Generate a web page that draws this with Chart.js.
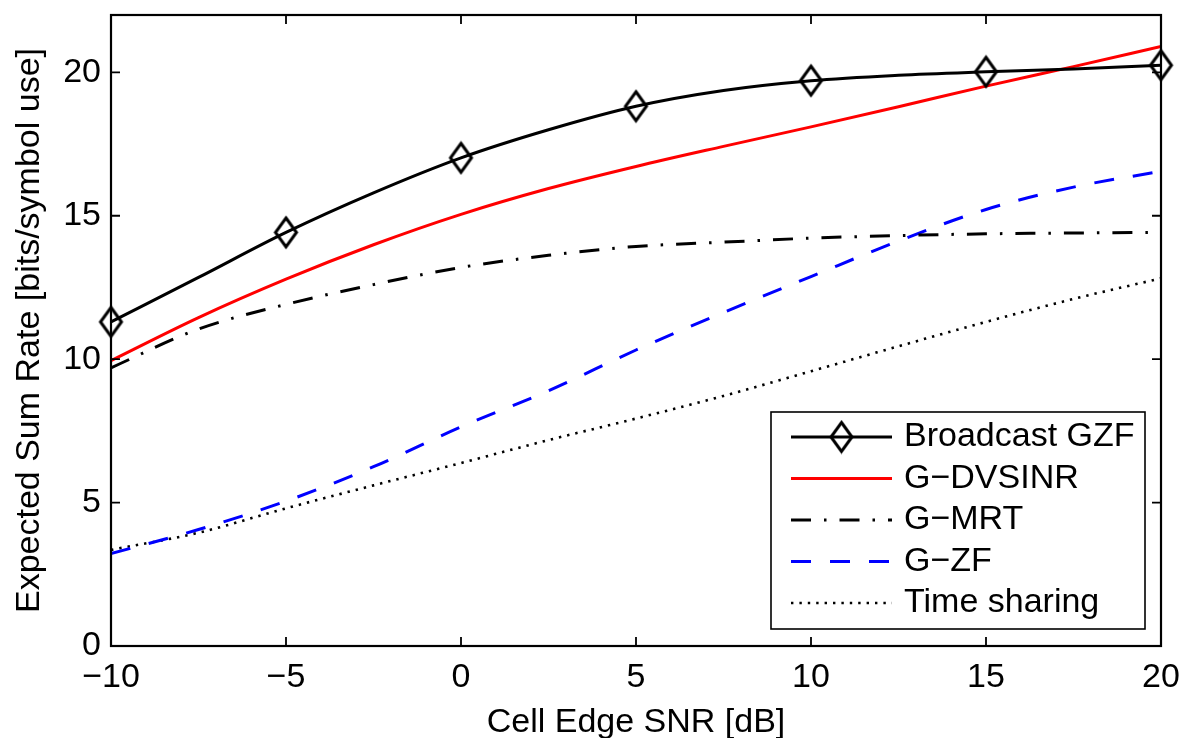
<!DOCTYPE html>
<html><head><meta charset="utf-8">
<script src="https://cdn.jsdelivr.net/npm/chart.js@4.4.1/dist/chart.umd.min.js"></script>
<style>html,body{margin:0;padding:0;background:#fff;}canvas{display:block;}</style>
</head><body>
<canvas id="c" width="1187" height="738"></canvas>
<script>
// ---- data ----
const snrDb        = [-10, -7.5, -5, -2.5, 0, 2.5, 5, 7.5, 10, 12.5, 15, 17.5, 20];
const broadcastGzf = [11.3, 12.85, 14.42, 15.8, 17.02, 18.0, 18.82, 19.37, 19.71, 19.9, 20.02, 20.12, 20.25];
const gDvsinr      = [9.95, 11.45, 12.79, 13.99, 15.05, 15.95, 16.72, 17.42, 18.1, 18.8, 19.52, 20.2, 20.9];
const gMrt         = [9.7, 11.05, 11.91, 12.6, 13.2, 13.62, 13.93, 14.08, 14.22, 14.31, 14.37, 14.4, 14.42];
const gZf          = [3.22, 4.06, 5.05, 6.25, 7.64, 8.9, 10.32, 11.63, 12.88, 14.12, 15.22, 16.0, 16.55];
const timeSharing  = [3.35, 3.95, 4.8, 5.6, 6.38, 7.18, 7.93, 8.72, 9.58, 10.45, 11.3, 12.1, 12.82];
const seriesLabels = ['Broadcast GZF', 'G\u2212DVSINR', 'G\u2212MRT', 'G\u2212ZF', 'Time sharing'];
const markerEvery  = 5;
const xTickValues  = [-10, -5, 0, 5, 10, 15, 20];
const xTickLabels  = ['\u221210', '\u22125', '0', '5', '10', '15', '20'];
const yTickValues  = [0, 5, 10, 15, 20];
const yTickLabels  = ['0', '5', '10', '15', '20'];
const xTitle = 'Cell Edge SNR [dB]';
const yTitle = 'Expected Sum Rate [bits/symbol use]';

const FONT = "'Liberation Sans', Arial, Helvetica, sans-serif";

// diamond marker image (taller than wide, unfilled)
function makeDiamond() {
  const w = 21, h = 29, lw = 3;
  const cv = document.createElement('canvas');
  cv.width = w + 6; cv.height = h + 6;
  const c = cv.getContext('2d');
  const cx = cv.width / 2, cy = cv.height / 2;
  c.strokeStyle = '#000'; c.lineWidth = lw; c.lineJoin = 'miter';
  c.beginPath();
  c.moveTo(cx, cy - h / 2); c.lineTo(cx + w / 2, cy); c.lineTo(cx, cy + h / 2); c.lineTo(cx - w / 2, cy); c.closePath();
  c.stroke();
  return cv;
}
const diamond = makeDiamond();

const toPts = arr => snrDb.map((x, i) => ({x: x, y: arr[i]}));

const datasets = [
  {label: seriesLabels[0], data: toPts(broadcastGzf), borderColor: '#000', borderWidth: 3,
   pointStyle: diamond, pointRadius: c => (c.raw && c.raw.x % markerEvery === 0) ? 12 : 0, clip: false, _marker: true},
  {label: seriesLabels[1], data: toPts(gDvsinr), borderColor: '#ff0000', borderWidth: 3, pointRadius: 0},
  {label: seriesLabels[2], data: toPts(gMrt), borderColor: '#000', borderWidth: 3, borderDash: [20, 13, 2.5, 13], pointRadius: 0},
  {label: seriesLabels[3], data: toPts(gZf), borderColor: '#0000ff', borderWidth: 3, borderDash: [20, 19], pointRadius: 0},
  {label: seriesLabels[4], data: toPts(timeSharing), borderColor: '#000', borderWidth: 2.6, borderDash: [2.4, 6], pointRadius: 0}
].map(d => Object.assign({fill: false, cubicInterpolationMode: 'monotone', backgroundColor: 'transparent'}, d));

const frameTicks = {
  id: 'frameTicks',
  afterDatasetsDraw(chart) {
    const {ctx, chartArea: a, scales: {x, y}} = chart;
    ctx.save();
    ctx.strokeStyle = '#000';
    ctx.lineWidth = 1.8;
    const L = 9;
    ctx.beginPath();
    xTickValues.forEach(v => {
      const px = x.getPixelForValue(v);
      ctx.moveTo(px, a.bottom); ctx.lineTo(px, a.bottom - L);
      ctx.moveTo(px, a.top); ctx.lineTo(px, a.top + L);
    });
    yTickValues.forEach(v => {
      const py = y.getPixelForValue(v);
      ctx.moveTo(a.left, py); ctx.lineTo(a.left + L, py);
      ctx.moveTo(a.right, py); ctx.lineTo(a.right - L, py);
    });
    ctx.stroke();
    ctx.lineWidth = 2.2;
    ctx.strokeRect(a.left, a.top, a.right - a.left, a.bottom - a.top);
    ctx.restore();
  }
};

const boxLegend = {
  id: 'boxLegend',
  afterDraw(chart) {
    const {ctx, chartArea: a} = chart;
    const right = a.right - 16, bottom = a.bottom - 17;
    const left = right - 374, top = bottom - 217;
    ctx.save();
    ctx.fillStyle = '#fff';
    ctx.fillRect(left, top, right - left, bottom - top);
    ctx.strokeStyle = '#000'; ctx.lineWidth = 1.6;
    ctx.strokeRect(left, top, right - left, bottom - top);
    const x0 = left + 20, x1 = left + 121, tx = left + 133;
    const rowY0 = top + 25, rowStep = 41.5;
    chart.data.datasets.forEach((d, i) => {
      const yy = rowY0 + i * rowStep;
      ctx.save();
      ctx.strokeStyle = d.borderColor; ctx.lineWidth = d.borderWidth;
      ctx.setLineDash(d.borderDash || []);
      ctx.beginPath(); ctx.moveTo(x0, yy); ctx.lineTo(x1, yy); ctx.stroke();
      ctx.restore();
      if (d._marker) {
        ctx.drawImage(diamond, (x0 + x1) / 2 - diamond.width / 2, yy - diamond.height / 2);
      }
      ctx.fillStyle = '#000';
      ctx.font = '34px ' + FONT;
      ctx.textBaseline = 'middle';
      ctx.textAlign = 'left';
      ctx.fillText(d.label, tx, yy);
    });
    ctx.restore();
  }
};

new Chart(document.getElementById('c'), {
  type: 'line',
  data: {datasets: datasets},
  options: {
    responsive: false,
    animation: false,
    devicePixelRatio: 1,
    events: [],
    layout: {padding: {left: 0, top: 12, right: 26, bottom: 0}},
    plugins: {legend: {display: false}, tooltip: {enabled: false}},
    scales: {
      x: {
        type: 'linear', min: -10, max: 20,
        afterBuildTicks: s => { s.ticks = xTickValues.map(v => ({value: v})); },
        afterFit: s => { s.height = 92; s.paddingLeft = 0; s.paddingRight = 0; },
        grid: {display: false, drawTicks: false},
        border: {display: false},
        ticks: {color: '#000', font: {family: FONT, size: 34}, padding: 11, maxRotation: 0, autoSkip: false,
                callback: (v, i) => xTickLabels[i]},
        title: {display: true, text: xTitle, color: '#000', font: {family: FONT, size: 34, lineHeight: 1},
                padding: {top: 0, bottom: -1.5}}
      },
      y: {
        type: 'linear', min: 0, max: 22,
        afterBuildTicks: s => { s.ticks = yTickValues.map(v => ({value: v})); },
        afterFit: s => { s.width = 111; s.paddingTop = 0; s.paddingBottom = 0; },
        grid: {display: false, drawTicks: false},
        border: {display: false},
        ticks: {color: '#000', font: {family: FONT, size: 34}, padding: 10, autoSkip: false,
                callback: (v, i) => yTickLabels[i]},
        title: {display: true, text: yTitle, color: '#000', font: {family: FONT, size: 34, lineHeight: 1},
                padding: {top: 12.5, bottom: 0}}
      }
    }
  },
  plugins: [frameTicks, boxLegend]
});
</script>
</body></html>
